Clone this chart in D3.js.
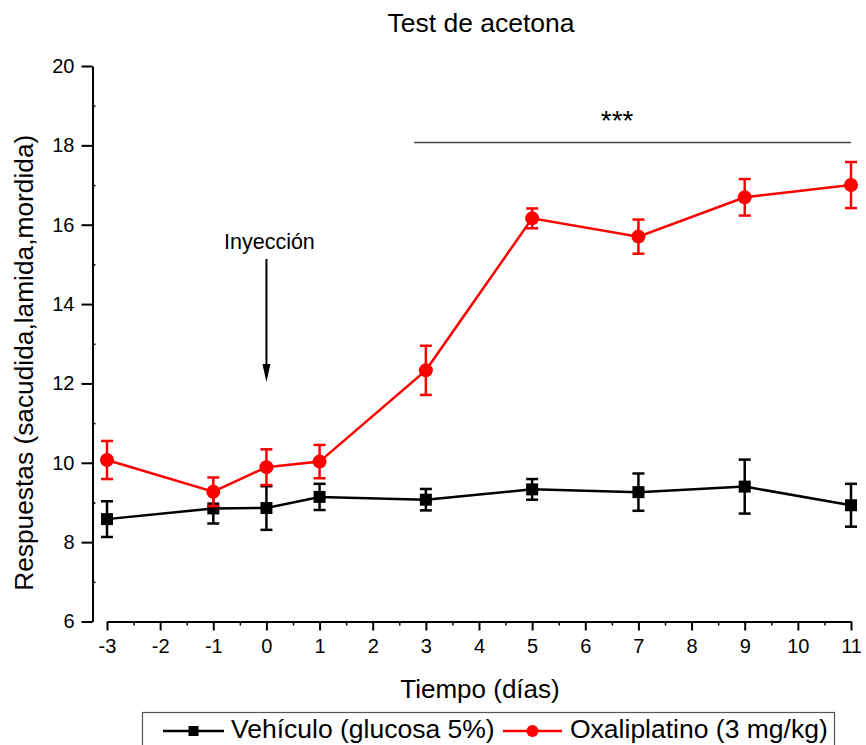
<!DOCTYPE html>
<html>
<head>
<meta charset="utf-8">
<script src="https://cdn.jsdelivr.net/npm/d3@7"></script>
<style>
  html, body { margin: 0; padding: 0; background: #fff; }
  svg { display: block; font-family: "Liberation Sans", Arial, sans-serif; }
</style>
</head>
<body>
<svg id="chart" width="866" height="745"></svg>
<script>
// Acetone test: responses over time for vehicle vs oxaliplatin groups (mean ± SEM)
const days = [-3, -1, 0, 1, 3, 5, 7, 9, 11];
const vehiculoMean = [8.58, 8.85, 8.86, 9.14, 9.07, 9.33, 9.26, 9.40, 8.93];
const vehiculoErr  = [0.45, 0.38, 0.55, 0.33, 0.27, 0.26, 0.47, 0.68, 0.54];
const oxaliMean    = [10.07, 9.27, 9.89, 10.03, 12.33, 16.16, 15.70, 16.69, 17.00];
const oxaliErr     = [0.48, 0.36, 0.45, 0.42, 0.62, 0.25, 0.43, 0.46, 0.58];

const xTickValues = [-3, -2, -1, 0, 1, 2, 3, 4, 5, 6, 7, 8, 9, 10, 11];
const xTickLabels = ["-3", "-2", "-1", "0", "1", "2", "3", "4", "5", "6", "7", "8", "9", "10", "11"];
const xMinorTicks = [-2.5, -1.5, -0.5, 0.5, 1.5, 2.5, 3.5, 4.5, 5.5, 6.5, 7.5, 8.5, 9.5, 10.5];
const yTickValues = [6, 8, 10, 12, 14, 16, 18, 20];
const yMinorTicks = [7, 9, 11, 13, 15, 17, 19];

const seriesNames = ["Vehículo (glucosa 5%)", "Oxaliplatino (3 mg/kg)"];
const seriesColors = ["#000000", "#ff0000"];

// significance bracket spanning days 3..11, and injection marker at day 0
const sigRange = [2.78, 11];
const sigLevel = 18.07;
const sigStarsDay = 6.6;
const injectionDay = 0;

const svg = d3.select("#chart");
const x = d3.scaleLinear().domain([-3, 11]).range([107, 851]);
const y = d3.scaleLinear().domain([6, 20]).range([621.5, 66]);
const yAxisX = 92.5;

// title
svg.append("text")
  .attr("x", 481).attr("y", 32)
  .attr("text-anchor", "middle")
  .attr("font-size", 26.5)
  .text("Test de acetona");

// y axis
const yAxis = svg.append("g")
  .attr("transform", `translate(${yAxisX},0)`)
  .call(d3.axisLeft(y).tickValues(yTickValues).tickSize(11).tickSizeOuter(0).tickPadding(7));
yAxis.selectAll("line, path").attr("stroke", "#000").attr("stroke-width", 2);
yAxis.selectAll("text").attr("font-size", 20).attr("fill", "#000").attr("font-family", "Liberation Sans, Arial, sans-serif");

const yMinor = svg.append("g")
  .attr("transform", `translate(${yAxisX},0)`)
  .call(d3.axisRight(y).tickValues(yMinorTicks).tickSize(3).tickFormat(""));
yMinor.select(".domain").remove();
yMinor.selectAll("line").attr("stroke", "#000").attr("stroke-width", 1.5);

// x axis
const xAxis = svg.append("g")
  .attr("transform", `translate(0,${y(6)})`)
  .call(d3.axisBottom(x).tickValues(xTickValues).tickSize(9).tickSizeOuter(0).tickPadding(8)
    .tickFormat((d, i) => xTickLabels[i]));
xAxis.selectAll("line, path").attr("stroke", "#000").attr("stroke-width", 2);
xAxis.selectAll("text").attr("font-size", 20).attr("fill", "#000").attr("font-family", "Liberation Sans, Arial, sans-serif");

const xMinor = svg.append("g")
  .attr("transform", `translate(0,${y(6)})`)
  .call(d3.axisBottom(x).tickValues(xMinorTicks).tickSize(4).tickFormat(""));
xMinor.select(".domain").remove();
xMinor.selectAll("line").attr("stroke", "#000").attr("stroke-width", 1.5);

// axis titles
svg.append("text")
  .attr("x", 480).attr("y", 698)
  .attr("text-anchor", "middle")
  .attr("font-size", 26)
  .text("Tiempo (días)");

svg.append("text")
  .attr("transform", `translate(33,${(y(6) + y(20)) / 2 + 19}) rotate(-90)`)
  .attr("text-anchor", "middle")
  .attr("font-size", 26.3)
  .text("Respuestas (sacudida,lamida,mordida)");

// significance line and stars
svg.append("line")
  .attr("x1", x(sigRange[0])).attr("x2", x(sigRange[1]))
  .attr("y1", y(sigLevel)).attr("y2", y(sigLevel))
  .attr("stroke", "#444").attr("stroke-width", 1.5);
svg.append("text")
  .attr("x", x(sigStarsDay)).attr("y", 130)
  .attr("text-anchor", "middle")
  .attr("font-size", 28)
  .text("***");

// injection annotation
svg.append("text")
  .attr("x", x(injectionDay) + 3).attr("y", 249)
  .attr("text-anchor", "middle")
  .attr("font-size", 21.5)
  .text("Inyección");
svg.append("line")
  .attr("x1", x(injectionDay)).attr("x2", x(injectionDay))
  .attr("y1", 259).attr("y2", 372)
  .attr("stroke", "#000").attr("stroke-width", 2);
svg.append("path")
  .attr("d", `M${x(injectionDay) - 4},364 L${x(injectionDay) + 4},364 L${x(injectionDay)},382 Z`)
  .attr("fill", "#000");

// series
const series = [
  { mean: vehiculoMean, err: vehiculoErr, color: seriesColors[0], shape: "square" },
  { mean: oxaliMean, err: oxaliErr, color: seriesColors[1], shape: "circle" }
];

const line = d3.line().x(d => x(d.day)).y(d => y(d.v));

series.forEach(s => {
  const pts = days.map((d, i) => ({ day: d, v: s.mean[i], e: s.err[i] }));
  const g = svg.append("g");
  g.append("path")
    .datum(pts)
    .attr("d", line)
    .attr("fill", "none")
    .attr("stroke", s.color)
    .attr("stroke-width", 2.5);
  const eb = g.selectAll(".eb").data(pts).join("g").attr("stroke", s.color).attr("stroke-width", 2.5);
  eb.append("line")
    .attr("x1", d => x(d.day)).attr("x2", d => x(d.day))
    .attr("y1", d => y(d.v - d.e)).attr("y2", d => y(d.v + d.e));
  eb.append("line")
    .attr("x1", d => x(d.day) - 6).attr("x2", d => x(d.day) + 6)
    .attr("y1", d => y(d.v + d.e)).attr("y2", d => y(d.v + d.e));
  eb.append("line")
    .attr("x1", d => x(d.day) - 6).attr("x2", d => x(d.day) + 6)
    .attr("y1", d => y(d.v - d.e)).attr("y2", d => y(d.v - d.e));
  if (s.shape === "square") {
    g.selectAll(".mk").data(pts).join("rect")
      .attr("x", d => x(d.day) - 6).attr("y", d => y(d.v) - 6)
      .attr("width", 12).attr("height", 12)
      .attr("fill", s.color);
  } else {
    g.selectAll(".mk").data(pts).join("circle")
      .attr("cx", d => x(d.day)).attr("cy", d => y(d.v))
      .attr("r", 7)
      .attr("fill", s.color);
  }
});

// legend
const legend = svg.append("g");
legend.append("rect")
  .attr("x", 142.5).attr("y", 712.5)
  .attr("width", 692).attr("height", 50)
  .attr("fill", "none").attr("stroke", "#555").attr("stroke-width", 1.2);
const legendItems = [
  { x0: 163, x1: 224, tx: 231, name: seriesNames[0], color: seriesColors[0], shape: "square" },
  { x0: 503, x1: 562, tx: 570, name: seriesNames[1], color: seriesColors[1], shape: "circle" }
];
legendItems.forEach(it => {
  const cy = 731;
  legend.append("line")
    .attr("x1", it.x0).attr("x2", it.x1).attr("y1", cy).attr("y2", cy)
    .attr("stroke", it.color).attr("stroke-width", 2.5);
  const cx = (it.x0 + it.x1) / 2;
  if (it.shape === "square") {
    legend.append("rect").attr("x", cx - 5).attr("y", cy - 5).attr("width", 10).attr("height", 10).attr("fill", it.color);
  } else {
    legend.append("circle").attr("cx", cx).attr("cy", cy).attr("r", 6).attr("fill", it.color);
  }
  legend.append("text")
    .attr("x", it.tx).attr("y", 737.5)
    .attr("font-size", 26.5)
    .text(it.name);
});
</script>
</body>
</html>
